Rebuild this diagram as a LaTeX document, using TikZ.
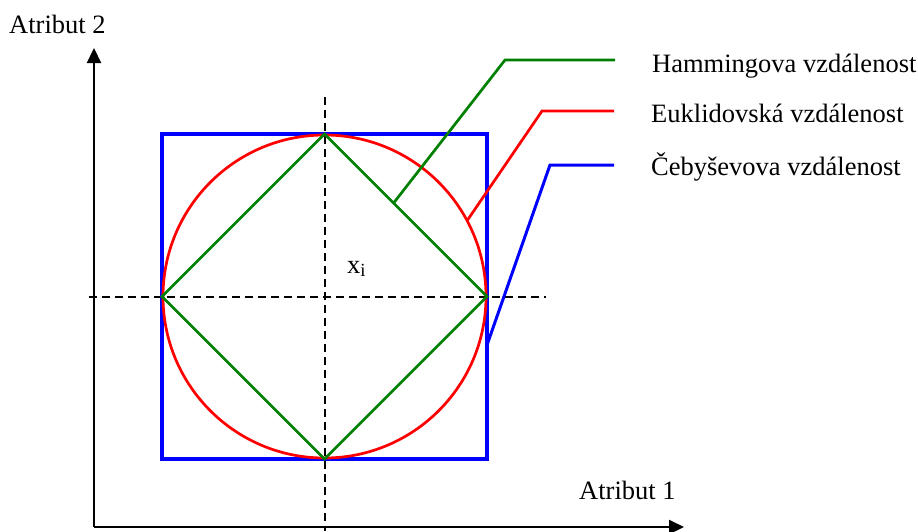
\documentclass[tikz,border=0pt]{standalone}
\usepackage{fontspec}
\setmainfont{Liberation Serif}
\usetikzlibrary{arrows.meta,calc}
\definecolor{hamgreen}{RGB}{0,128,0}
\definecolor{eukred}{RGB}{255,0,0}
\definecolor{cebblue}{RGB}{0,0,255}
\begin{document}
\begin{tikzpicture}[x=1pt,y=-1pt,
  lbl/.style={anchor=base west,inner sep=0pt,font=\fontsize{26.5}{30}\selectfont},
  axisline/.style={line width=2.2pt,-{Triangle[length=15pt,width=14pt]}},
  guide/.style={line width=2pt,dash pattern=on 8pt off 5pt},
  shapeline/.style={line width=2.7pt}]
\useasboundingbox (0,0) rectangle (918,531);
% axes
\coordinate (o) at (94,527);
\coordinate (ytip) at (94,48);
\coordinate (xtip) at (684,527);
\draw[axisline] (o) -- (ytip);
\draw[axisline] (o) -- (xtip);
\node[lbl] (a2) at (9,33) {Atribut 2};
\node[lbl] (a1) at (579,499) {Atribut 1};
% centre and guides
\coordinate (c) at (324.5,296.5);
\coordinate (vtop) at (324.5,97);
\coordinate (vbot) at (324.5,531);
\coordinate (hleft) at (89,296.5);
\coordinate (hright) at (546,296.5);
\draw[guide] (vtop) -- (vbot);
\draw[guide] (hleft) -- (hright);
\node[lbl] (xi) at (347,273) {x\textsubscript{i}};
% shapes
\node[draw=cebblue,line width=3.2pt,minimum size=325pt,inner sep=0pt] (sq) at (c) {};
\node[draw=eukred,shapeline,circle,minimum size=323pt,inner sep=0pt] (circ) at (c) {};
\coordinate (dt) at (324.5,134);
\coordinate (dr) at (487,296.5);
\coordinate (db) at (324.5,459);
\coordinate (dl) at (162,296.5);
\draw[hamgreen,shapeline,line join=miter] (dt) -- (dr) -- (db) -- (dl) -- cycle;
% leaders
\coordinate (gs) at ($(dt)!0.425!(dr)$);
\coordinate (gk) at (505,60);
\coordinate (ge) at (615,60);
\coordinate (rs) at ($(c)+(-28:161.5)$);
\coordinate (rk) at (542,111);
\coordinate (re) at (614,111);
\coordinate (bs) at (487,345);
\coordinate (bk) at (550,165);
\coordinate (be) at (614,165);
\draw[hamgreen,shapeline] (gs) -- (gk) -- (ge);
\draw[eukred,shapeline] (rs) -- (rk) -- (re);
\draw[cebblue,line width=3pt] (bs) -- (bk) -- (be);
\node[lbl] (lh) at (652,72) {Hammingova vzdálenost};
\node[lbl] (le) at (651,122) {Euklidovská vzdálenost};
\node[lbl] (lc) at (651,175) {Čebyševova vzdálenost};
\end{tikzpicture}
\end{document}
